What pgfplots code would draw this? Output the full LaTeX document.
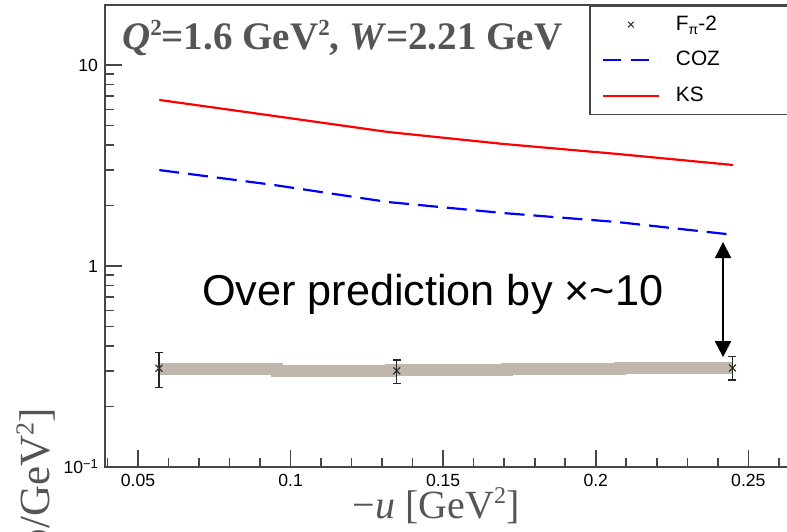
\documentclass[border=0pt]{standalone}
\usepackage{pgfplots}
\pgfplotsset{compat=1.18}
\usetikzlibrary{arrows.meta}
\usepackage{fontspec}
\setmainfont{Liberation Sans}
\newfontfamily\tnr{Liberation Serif}
\definecolor{bandc}{RGB}{191,182,172}
\definecolor{framec}{RGB}{70,70,70}
\definecolor{ttl}{RGB}{85,85,85}
\newcommand{\sq}[2]{\raisebox{#2}{\fontsize{#1}{#1}\selectfont 2}}
\begin{document}
\begin{tikzpicture}
\begin{axis}[
  scale only axis, width=343.5pt, height=231pt,
  xmin=0.0392, xmax=0.2643,
  ymode=log, ymin=0.1, ymax=19.88,
  clip=false,
  axis line style={framec, line width=0.8pt},
  xtick={0.05,0.1,0.15,0.2,0.25},
  xticklabels={0.05,0.1,0.15,0.2,0.25},
  minor xtick={0.04,0.05,...,0.26},
  ytick={0.1,1,10},
  yticklabels={{10\raisebox{0.55ex}{\fontsize{6.5}{6.5}\selectfont −1}},1,10},
  minor ytick={0.2,0.3,0.4,0.5,0.6,0.7,0.8,0.9,2,3,4,5,6,7,8,9},
  tick align=inside, major tick length=8.5pt, minor tick length=4.3pt,
  xtick pos=bottom, ytick pos=left,
  tick style={framec, line width=0.8pt},
  ticklabel style={font=\fontsize{8.8}{10}\selectfont},
  /pgf/number format/assume math mode=true,
  legend style={at={(axis description cs:0.7045,1)}, anchor=north west,
    draw=framec, line width=0.8pt, fill=white,
    font=\fontsize{10.4}{12}\selectfont, inner xsep=6pt, inner ysep=3pt,
    row sep=5pt, column sep=6pt},
  legend cell align=left,
]
% systematic band
\addplot[const plot, line width=6pt, color=bandc, forget plot] coordinates {
 (0.057,0.307) (0.0955,0.302) (0.133,0.303) (0.171,0.307) (0.208,0.310) (0.245,0.310)};
% data
\addplot[only marks, mark=x, mark size=2.4pt, black!80, line width=0.6pt,
  legend image code/.code={\draw[black!80, line width=0.5pt] plot[mark=x, mark size=2pt] coordinates {(14pt,0pt)};},
  error bars/.cd, y dir=both, y explicit,
  error bar style={line width=0.7pt, black!85},
  error mark options={rotate=90, line width=0.7pt, mark size=2pt, black!85}]
 coordinates {
 (0.0569,0.310) += (0,0.062) -= (0,0.062)
 (0.1348,0.301) += (0,0.039) -= (0,0.040)
 (0.2448,0.311) += (0,0.043) -= (0,0.040)
};
\addlegendentry{\makebox[80pt][l]{F\raisebox{-0.35ex}{\fontsize{7}{7}\selectfont π}-2}}
% COZ
\addplot[blue, line width=1.1pt, dash pattern=on 10pt off 4.5pt,
  legend image code/.code={\draw[blue, line width=1.1pt, dash pattern=on 9pt off 5pt] (0pt,0pt) -- (28pt,0pt);}]
 coordinates {(0.057,3.00) (0.0945,2.53) (0.132,2.08) (0.1695,1.835) (0.207,1.655) (0.245,1.43)};
\addlegendentry{COZ}
% KS
\addplot[red, line width=1.1pt,
  legend image code/.code={\draw[red, line width=1.1pt] (0pt,0pt) -- (28pt,0pt);}]
 coordinates {(0.057,6.70) (0.0945,5.58) (0.132,4.64) (0.1695,4.05) (0.207,3.61) (0.245,3.18)};
\addlegendentry{KS}
% annotations
\draw[{Triangle[width=8pt,length=8pt]}-{Triangle[width=8pt,length=8pt]}, line width=1pt]
  (axis cs:0.2417,1.316) -- (axis cs:0.2417,0.352);
\node[anchor=base west, inner sep=0pt, text=ttl, font=\tnr\bfseries\fontsize{19.5}{21}\selectfont]
  at (rel axis cs:0.0243,0.9026) {\textit{Q}\sq{11.5}{0.36em}=1.6 GeV\sq{11.5}{0.36em}, \textit{W}=2.21 GeV};
\node[anchor=base west, inner sep=0pt, font=\fontsize{21.6}{24}\selectfont]
  at (rel axis cs:0.1408,0.3506) {Over prediction by ×\textasciitilde10};
\node[anchor=base, inner sep=0pt, yshift=-25.6pt, text=ttl, font=\tnr\fontsize{20}{22}\selectfont]
  at (rel axis cs:0.4818,0) {−\textit{u} [GeV\sq{12}{0.38em}]};
\node[anchor=base east, rotate=90, inner sep=0pt, text=ttl, font=\tnr\fontsize{21.5}{23}\selectfont]
  at (rel axis cs:-0.0801,0.1277) {d\textit{σ}/d\textit{u} [μb/GeV\sq{13}{0.38em}]};
\end{axis}
\pgfresetboundingbox
\path[use as bounding box] ([shift={(-52.5pt,-32pt)}]current axis.south west) rectangle ([shift={(341pt,233.5pt)}]current axis.south west);
\end{tikzpicture}
\end{document}
